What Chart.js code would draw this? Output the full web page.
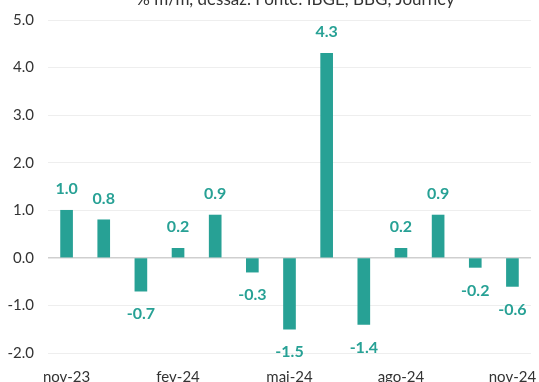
<!DOCTYPE html>
<html><head><meta charset="utf-8">
<script src="https://cdn.jsdelivr.net/npm/chart.js@4/dist/chart.umd.min.js"></script>
<style>html,body{margin:0;padding:0;background:#fff}#wrap{width:539px;height:382px}</style>
</head><body><div id="wrap"><canvas id="c" width="539" height="382"></canvas></div>
<script>
const categories = ['nov-23','dez-23','jan-24','fev-24','mar-24','abr-24','mai-24','jun-24','jul-24','ago-24','set-24','out-24','nov-24'];
const values = [1.0, 0.8, -0.7, 0.2, 0.9, -0.3, -1.5, 4.3, -1.4, 0.2, 0.9, -0.2, -0.6];
const yTicks = [-2, -1, 0, 1, 2, 3, 4, 5];
const titleText = '% m/m, dessaz. Fonte: IBGE, BBG, Journey';
const teal = '#27A195';

const labelPlugin = {
  id: 'valLabels',
  afterDatasetsDraw(chart) {
    const ctx = chart.ctx;
    const meta = chart.getDatasetMeta(0);
    ctx.save();
    ctx.fillStyle = teal;
    ctx.font = 'bold 16px Lato';
    ctx.textAlign = 'center';
    ctx.textBaseline = 'middle';
    meta.data.forEach((bar, i) => {
      const v = values[i];
      const y = v >= 0 ? bar.y - 21 : bar.y + 23;
      ctx.fillText(v.toFixed(1), bar.x, y);
    });
    ctx.restore();
  },
  afterDraw(chart) {
    const ctx = chart.ctx;
    const a = chart.chartArea;
    ctx.save();
    ctx.fillStyle = '#333';
    ctx.font = '17px Lato';
    ctx.textAlign = 'center';
    ctx.textBaseline = 'alphabetic';
    ctx.fillText(titleText, (a.left + a.right) / 2 + 6, 5);
    ctx.restore();
  }
};

new Chart(document.getElementById('c'), {
  type: 'bar',
  data: { labels: categories, datasets: [{ data: values, backgroundColor: teal, barThickness: 12 }] },
  options: {
    responsive: false, animation: false,
    layout: { padding: { top: 20, right: 8, left: 0, bottom: 0 } },
    plugins: { legend: { display: false }, tooltip: { enabled: false } },
    scales: {
      x: {
        grid: { display: false, drawTicks: false },
        border: { display: false },
        ticks: {
          autoSkip: false, maxRotation: 0, minRotation: 0, padding: 15,
          color: '#333', font: { family: 'Lato', size: 15 },
          callback: function(v, i) { return i % 3 === 0 ? categories[i] : ''; }
        },
        afterFit(s) { s.height = 29; s.paddingLeft = 0; s.paddingRight = 0; }
      },
      y: {
        min: -2, max: 5,
        afterBuildTicks(s) { s.ticks = yTicks.map(v => ({ value: v })); },
        grid: {
          drawTicks: false,
          color: ctx => ctx.tick && ctx.tick.value === 0 ? '#cfcfcf' : '#eeeeee',
          lineWidth: ctx => ctx.tick && ctx.tick.value === 0 ? 1.5 : 1
        },
        border: { display: false },
        ticks: {
          padding: 14, color: '#333', font: { family: 'Lato', size: 15 },
          callback: v => Number(v).toFixed(1)
        },
        afterFit(s) { s.width = 48; s.paddingTop = 0; s.paddingBottom = 0; }
      }
    }
  },
  plugins: [labelPlugin]
});
</script></body></html>
